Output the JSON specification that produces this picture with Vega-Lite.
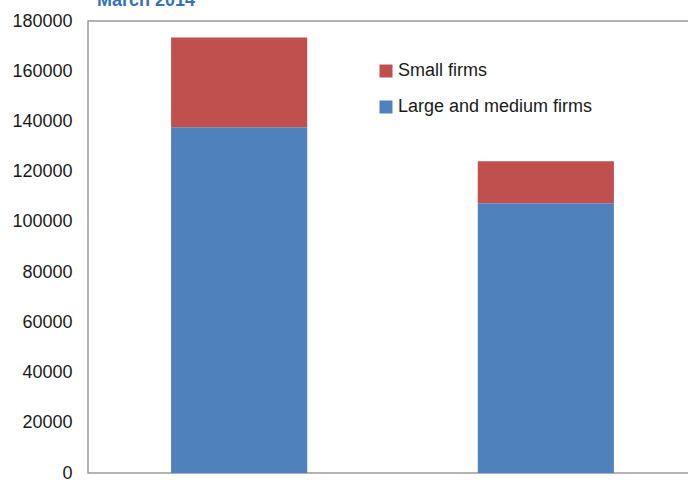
{
  "$schema": "https://vega.github.io/schema/vega-lite/v6.json",
  "width": 609,
  "height": 452,
  "autosize": "none",
  "padding": {"left": 88, "top": 21, "right": 0, "bottom": 7},
  "background": "white",
  "title": {"text": "March 2014", "color": "#3572B8", "fontSize": 18, "font": "Liberation Sans", "fontWeight": "bold", "anchor": "start", "frame": "group", "dx": 9, "offset": -12, "baseline": "alphabetic"},
  "config": {
    "view": {"stroke": "#9a9a9a", "strokeWidth": 1.5},
    "font": "Liberation Sans"
  },
  "data": {
    "values": [
      {"group": "Group 1", "firm": "Large and medium firms", "value": 137700, "ord": 1},
      {"group": "Group 1", "firm": "Small firms", "value": 35700, "ord": 2},
      {"group": "Group 2", "firm": "Large and medium firms", "value": 107400, "ord": 1},
      {"group": "Group 2", "firm": "Small firms", "value": 16700, "ord": 2}
    ]
  },
  "mark": {"type": "bar"},
  "encoding": {
    "x": {"field": "group", "type": "nominal", "axis": null, "scale": {"paddingInner": 0.556, "paddingOuter": 0.271}},
    "y": {"field": "value", "type": "quantitative", "stack": "zero",
      "scale": {"domain": [0, 180000], "nice": false},
      "axis": {"values": [0, 20000, 40000, 60000, 80000, 100000, 120000, 140000, 160000, 180000], "format": "d", "title": null, "domain": false, "ticks": false, "grid": false, "labelFontSize": 18, "labelColor": "#1a1a1a", "labelPadding": 16, "labelFont": "Liberation Sans"}},
    "color": {"field": "firm", "type": "nominal",
      "scale": {"domain": ["Small firms", "Large and medium firms"], "range": ["#C0504D", "#4F81BD"]},
      "legend": {"title": null, "orient": "none", "legendX": 289, "legendY": 41, "symbolType": "square", "symbolSize": 169, "symbolStrokeWidth": 0, "labelFontSize": 18, "labelFont": "Liberation Sans", "labelColor": "#1a1a1a", "labelOffset": 3, "rowPadding": 18, "labelLimit": 0}},
    "order": {"field": "ord", "type": "quantitative"}
  }
}
